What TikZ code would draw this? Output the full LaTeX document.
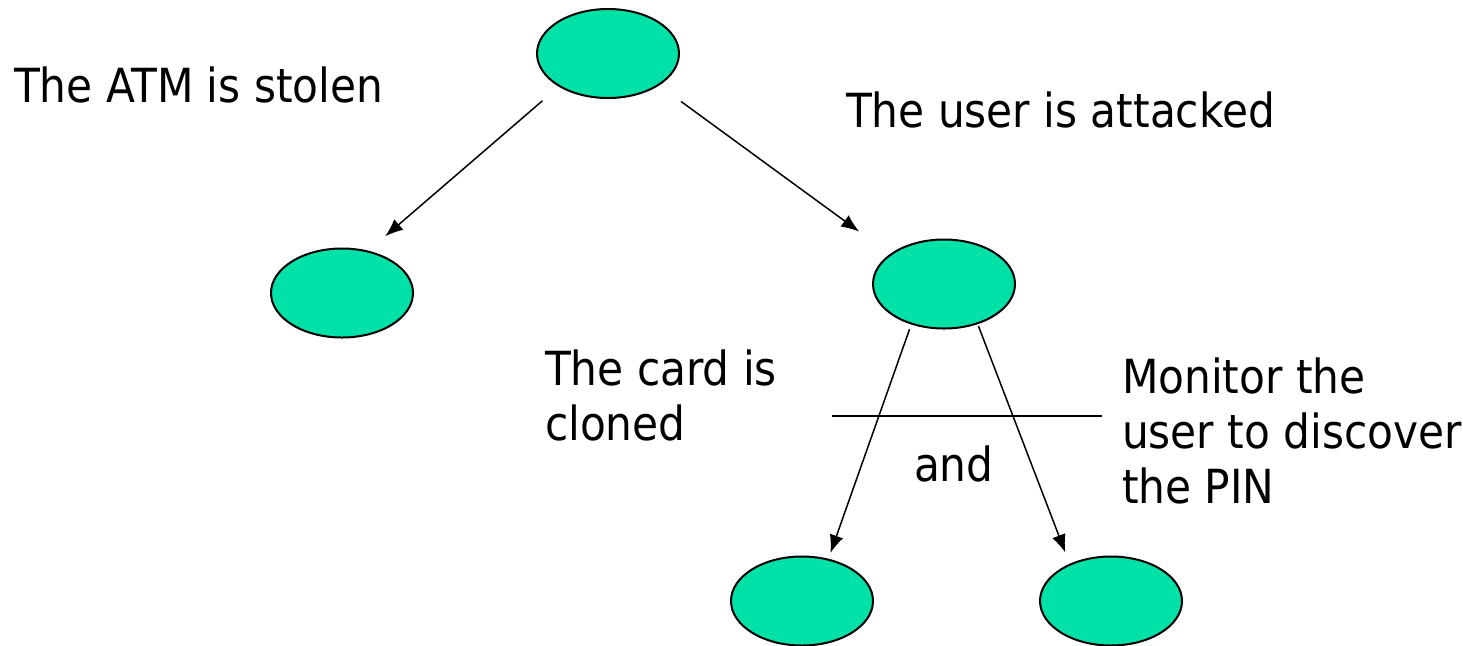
\documentclass[tikz,border=0pt]{standalone}
\usepackage{fontspec}
\setmainfont{DejaVu Sans Condensed}
\usetikzlibrary{arrows.meta}
\usetikzlibrary{shapes.geometric}
\definecolor{goalgreen}{RGB}{0,225,168}

\begin{document}
\begin{tikzpicture}[x=0.5pt,y=-0.5pt,inner sep=0pt,line width=1pt,>={Latex[length=9pt,width=7pt]},
  goal/.style={draw,ellipse,fill=goalgreen,minimum width=71pt,minimum height=44.5pt},
  lbl/.style={anchor=base west,align=left,font=\fontsize{23.5}{27.5}\selectfont}]
\useasboundingbox (0,0) rectangle (1463,645);
\draw node [goal] (root)    at (608,53.5) {};
\draw node [goal] (stolen)  at (342,293)  {};
\draw node [goal] (attack)  at (944,284)  {};
\draw node [goal] (cloned)  at (802,601)  {};
\draw node [goal] (monitor) at (1111,601) {};
\draw node [lbl] (stolenlbl)  at (13,102)   {The ATM is stolen};
\draw node [lbl] (attacklbl)  at (845,127)  {The user is attacked};
\draw node [lbl] (clonedlbl)  at (544,440)  {The card is\\cloned};
\draw node [lbl] (monitorlbl) at (1121,503) {Monitor the\\user to discover\\the PIN};
\draw node [lbl] (andlbl)     at (913,481)  {and};
\draw [->,line width=0.75pt,shorten <=10.8pt,shorten >=11pt] (root.214) -- (stolen.58);
\draw [->,line width=0.75pt,shorten <=13.5pt,shorten >=19pt] (root.328) -- (attack.151);
\draw [->,line width=0.75pt,shorten <=2.5pt,shorten >=3pt] (attack.231) -- (cloned.58);
\draw [->,line width=0.75pt,shorten <=1pt,shorten >=6pt] (attack.310) -- (monitor.138);
\coordinate (andL) at (832,416);
\coordinate (andR) at (1102,416);
\draw [line width=0.75pt] (andL) -- (andR);
\end{tikzpicture}
\end{document}
